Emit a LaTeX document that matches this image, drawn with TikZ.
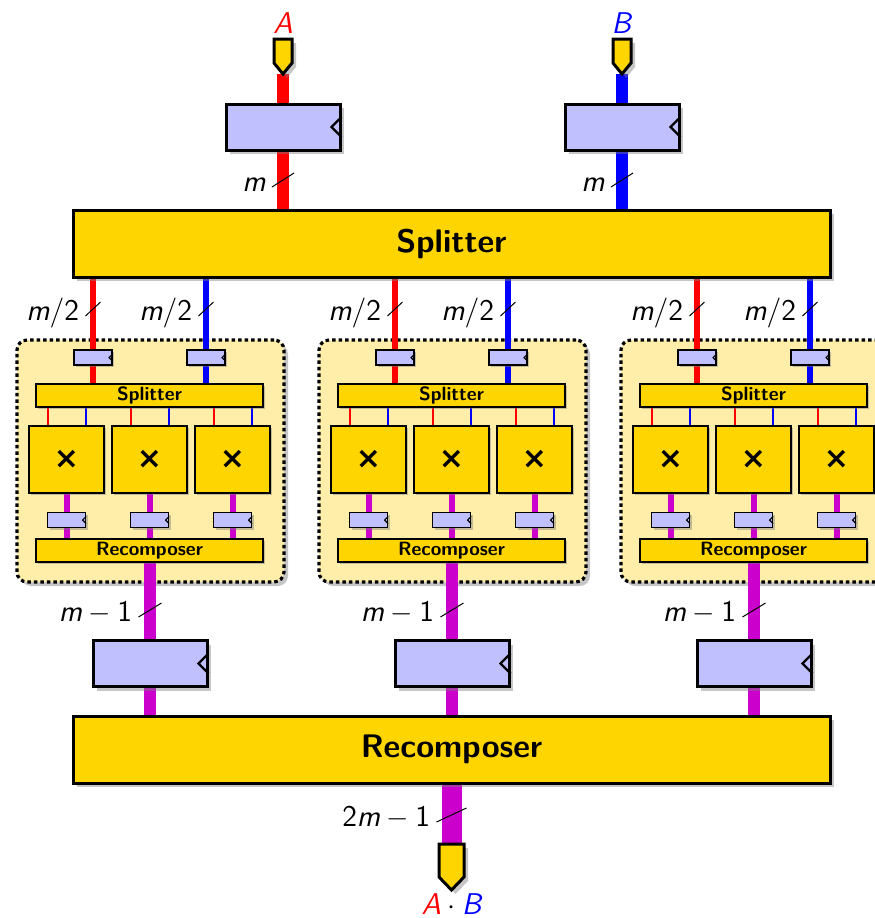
\documentclass[tikz,border=0pt]{standalone}
\usepackage{fontspec}
\newfontfamily\crossfont{DejaVu Sans}
\usetikzlibrary{shadows,calc,positioning}
\definecolor{busred}{RGB}{255,0,0}
\definecolor{busblue}{RGB}{0,0,255}
\definecolor{busmag}{RGB}{204,0,204}
\definecolor{unitfill}{RGB}{255,213,0}
\definecolor{regfill}{RGB}{192,192,255}
\definecolor{modfill}{RGB}{255,238,170}
\pgfdeclarelayer{bg}\pgfdeclarelayer{wire}\pgfsetlayers{bg,wire,main}
\newcommand{\clk}[3]{\draw[line width=#3,line join=miter] ($(#1.east)+(0,#2)$) -- ++(-#2,-#2) -- ++(#2,-#2);}
\newcommand{\busmark}[4]{%
  \draw[slashmark] ($(#1)+(-#2,7)$) -- ($(#1)+(#2,-7)$);
  \node[buslab,anchor=base east] (#4) at ($(#1)+(-#2,11)+(-6,0)$) {#3};}
\tikzset{
  shad/.style={drop shadow={shadow xshift=#1,shadow yshift=-#1,opacity=0.45}},
  unitbig/.style={draw, line width=1.5pt, fill=unitfill, minimum width=378.5pt, minimum height=33.5pt,
    font=\fontsize{16.3}{18}\selectfont\sffamily\bfseries, shad=2pt},
  unitsmall/.style={draw, line width=0.75pt, fill=unitfill, minimum width=113.5pt, minimum height=11.5pt,
    inner sep=0pt, font=\fontsize{9.6}{10}\selectfont\sffamily\bfseries, shad=1pt},
  mult/.style={draw, line width=0.9pt, fill=unitfill, minimum width=37.5pt, minimum height=33.5pt,
    font=\fontsize{15}{15}\selectfont\crossfont\bfseries, shad=1pt},
  regbig/.style={draw, line width=1.5pt, fill=regfill, minimum width=57pt, minimum height=23pt, shad=2pt},
  regsmall/.style={draw, line width=0.6pt, fill=regfill, minimum width=19pt, minimum height=7.5pt,
    inner sep=0pt, shad=1pt},
  modbox/.style={draw, line width=1.6pt, dash pattern=on 1.75pt off 1.5pt, rounded corners=5pt,
    fill=modfill, minimum width=133.5pt, minimum height=121pt, shad=2pt},
  pinshape/.style={draw, line width=1.5pt, fill=unitfill, line join=miter, shad=2pt},
  buslab/.style={inner sep=0pt, font=\fontsize{15}{18}\selectfont\sffamily},
  slashmark/.style={line width=0.5pt},
  wbig/.style={line width=6pt},
  wmid/.style={line width=3pt},
  wthin/.style={line width=1pt},
}
\begin{document}
\begin{tikzpicture}[x=0.5pt,y=-0.5pt]
  \useasboundingbox (0,0) rectangle (875,918);
  % input pins and registers
  \coordinate (pinA) at (283,74);
  \coordinate (pinB) at (622,74);
  \foreach \p in {pinA,pinB}
    \path[pinshape] ($(\p)+(-9,-35)$) -- ($(\p)+(9,-35)$) -- ($(\p)+(9,-11)$) -- (\p) -- ($(\p)+(-9,-11)$) -- cycle;
  \node[buslab,anchor=base] (labA) at (283,33) {\color{busred}\textit{A}};
  \node[buslab,anchor=base] (labB) at (622,33) {\color{busblue}\textit{B}};
  \node[regbig] (regA) at (283,127) {}; \clk{regA}{5pt}{1.2pt}
  \node[regbig] (regB) at (622,127) {}; \clk{regB}{5pt}{1.2pt}
  \node[unitbig] (spl) at (451.5,243.5) {Splitter};
  \begin{pgfonlayer}{wire}
    \draw[wbig,busred] (pinA) -- (pinA |- spl.north);
    \draw[wbig,busblue] (pinB) -- (pinB |- spl.north);
  \end{pgfonlayer}
  \coordinate (cA) at (283,180);
  \coordinate (cB) at (622,180);
  \busmark{cA}{11}{\textit{m}}{mA}
  \busmark{cB}{11}{\textit{m}}{mB}
  % multiplier modules
  \foreach \cx/\n in {150/1,452/2,754/3}{
    \node[regsmall] (ra\n) at (\cx-57,357.5) {};
    \node[regsmall] (rb\n) at (\cx+56,357.5) {};
    \node[unitsmall] (ss\n) at (\cx-0.5,395.5) {Splitter};
    \node[unitsmall] (sr\n) at (\cx-0.5,550.5) {Recomposer};
    \node[regbig] (ro\n) at (\cx,663.5) {};
  }
  \foreach \n in {1,2,3}{
    \clk{ra\n}{1.75pt}{0.6pt}
    \clk{rb\n}{1.75pt}{0.6pt}
    \clk{ro\n}{5pt}{1.2pt}
  }
  \foreach \cx/\n in {150/1,452/2,754/3}{
    \begin{pgfonlayer}{bg}
      \node[modbox] (mod\n) at (\cx+0.5,461) {};
    \end{pgfonlayer}
  }
  \foreach \cx/\n in {150/1,452/2,754/3}
    \foreach \dx/\k in {-83.5/1,-0.5/2,82.5/3}{
      \node[mult] (mu\n\k) at (\cx+\dx,459.5) {×};
      \node[regsmall] (rm\n\k) at (\cx+\dx,520) {};
    }
  \foreach \n in {1,2,3}
    \foreach \k in {1,2,3}{
      \clk{rm\n\k}{1.75pt}{0.6pt}
    }
  \foreach \n in {1,2,3}
    \foreach \k in {1,2,3}{
      \coordinate (tr\n\k) at ($(mu\n\k.north)+(-19,0)$);
      \coordinate (tb\n\k) at ($(mu\n\k.north)+(19,0)$);
    }
  \begin{pgfonlayer}{wire}
    \foreach \n in {1,2,3}{
      \draw[wmid,busred] (ra\n |- spl.south) -- (ra\n |- ss\n.north);
      \draw[wmid,busblue] (rb\n |- spl.south) -- (rb\n |- ss\n.north);
      \foreach \k in {1,2,3}{
        \draw[wthin,busred] (tr\n\k) -- (tr\n\k |- ss\n.south);
        \draw[wthin,busblue] (tb\n\k) -- (tb\n\k |- ss\n.south);
        \draw[wmid,busmag] (mu\n\k.south) -- (mu\n\k |- sr\n.north);
      }
    }
  \end{pgfonlayer}
  \foreach \cx/\n in {150/1,452/2,754/3}{
    \coordinate (ka\n) at (\cx-57,309);
    \coordinate (kb\n) at (\cx+56,309);
    \coordinate (ko\n) at (\cx,610);
  }
  \foreach \n in {1,2,3}{
    \busmark{ka\n}{7.5}{\textit{m}/2}{ha\n}
    \busmark{kb\n}{7.5}{\textit{m}/2}{hb\n}
    \busmark{ko\n}{11.5}{$\textit{m}-\mbox{1}$}{hm\n}
  }
  % recomposer and output
  \node[unitbig] (rec) at (451.5,749.5) {Recomposer};
  \coordinate (pinO) at (451.5,844);
  \begin{pgfonlayer}{wire}
    \foreach \n in {1,2,3}
      \draw[wbig,busmag] (ro\n |- sr\n.south) -- (ro\n |- rec.north);
    \draw[line width=10pt,busmag] (rec.south) -- (pinO);
  \end{pgfonlayer}
  \path[pinshape] ($(pinO)+(-12.5,0)$) -- ($(pinO)+(12.5,0)$) -- ($(pinO)+(12.5,33)$) -- ($(pinO)+(0,46)$) -- ($(pinO)+(-12.5,33)$) -- cycle;
  \coordinate (cO) at (451.5,815);
  \busmark{cO}{15}{$\mbox{2}\textit{m}-\mbox{1}$}{hout}
  \node[buslab,anchor=base] (labO) at (451.5,914) {$\textcolor{busred}{\textit{A}}\cdot\textcolor{busblue}{\textit{B}}$};
\end{tikzpicture}
\end{document}
